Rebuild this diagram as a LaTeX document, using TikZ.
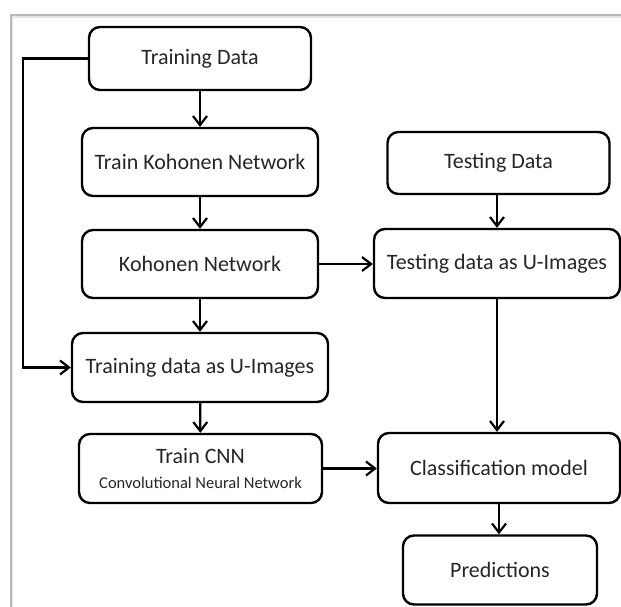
\documentclass[tikz,border=0pt]{standalone}
\usepackage{fontspec}
\setmainfont{Carlito}
\usetikzlibrary{arrows.meta,positioning}

\tikzset{
  flowbox/.style={draw=black, line width=2.4pt, rounded corners=11pt, fill=white,
    inner sep=0pt, align=center, font=\fontsize{22}{25}\selectfont, text=black!85},
  flow/.style={line width=2.2pt, -{Straight Barb[length=9pt,width=14pt,line width=2.2pt]}},
  frameline/.style={draw=gray!55, line width=1.3pt}
}

\begin{document}
\begin{tikzpicture}[x=1pt,y=-1pt]
  \useasboundingbox (0,0) rectangle (621,606);
  \fill[white] (0,0) rectangle (621,606);

  % page frame with a soft shadow
  \draw[gray!20, line width=3pt] (11,608) -- (11,16) -- (623,16);
  \draw[frameline] (11,608) -- (11,15) -- (623,15);

  % left column
  \node[flowbox, minimum width=222pt, minimum height=63pt] (td) at (200,58.5) {Training Data};
  \node[flowbox, minimum width=236pt, minimum height=68pt] (tk) at (200,162) {Train Kohonen Network};
  \node[flowbox, minimum width=236pt, minimum height=68pt] (kn) at (200,264) {Kohonen Network};
  \node[flowbox, minimum width=256pt, minimum height=69pt] (tu) at (200,367.5) {Training data as U-Images};
  \node[flowbox, minimum width=243pt, minimum height=69pt] (cnn) at (200.5,468.5)
    {Train CNN\\[0pt]{\fontsize{16.5}{19}\selectfont Convolutional Neural Network}};

  % right column
  \node[flowbox, minimum width=222pt, minimum height=62pt] (ted) at (498.5,163) {Testing Data};
  \node[flowbox, minimum width=246pt, minimum height=69pt] (teu) at (497,263.5) {Testing data as U-Images};
  \node[flowbox, minimum width=242pt, minimum height=70pt] (cm) at (499,468) {Classification model};
  \node[flowbox, minimum width=194pt, minimum height=69pt] (pr) at (500,570) {Predictions};

  % vertical flow, left
  \draw[flow] (td) -- (tk);
  \draw[flow] (tk) -- (kn);
  \draw[flow] (kn) -- (tu);
  \draw[flow] (tu) -- (cnn);

  % vertical flow, right
  \draw[flow] (ted.south -| 497,0) -- (teu.north -| 497,0);
  \draw[flow] (teu.south -| 497,0) -- (cm.north -| 497,0);
  \draw[flow] (cm.south -| 499,0) -- (pr.north -| 499,0);

  % horizontal links
  \draw[flow] (kn.east) -- (teu.west |- kn.east);
  \draw[flow] (cnn.east) -- (cm.west |- cnn.east);

  % bypass from the training data to the U-images
  \coordinate (bend1) at (23,58.5);
  \coordinate (bend2) at (23,367.5);
  \draw[flow, line join=miter] (td.west) -- (bend1) -- (bend2) -- (tu.west);
\end{tikzpicture}
\end{document}
